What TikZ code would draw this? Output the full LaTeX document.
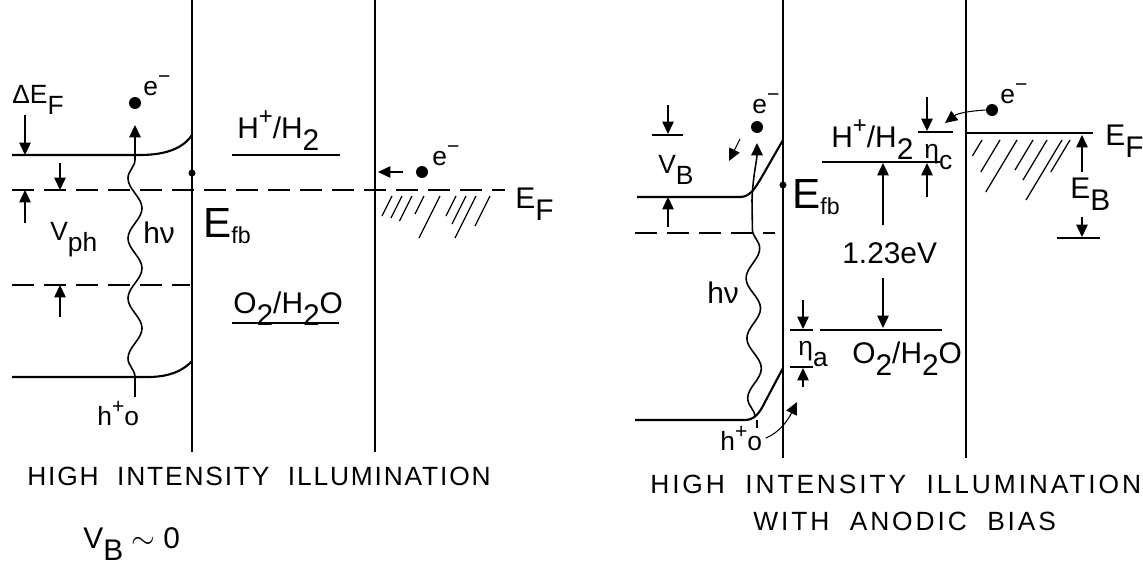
\documentclass[tikz,border=0pt]{standalone}
\usepackage{fontspec}
\setmainfont{Liberation Sans}
\usetikzlibrary{arrows.meta,decorations.pathmorphing,positioning}

\newcommand{\lo}[1]{\raisebox{-0.42em}{#1}}
\newcommand{\hi}[1]{\raisebox{0.45em}{\scalebox{0.8}{#1}}}
\newcommand{\fbsub}{\raisebox{-0.15em}{\scalebox{0.55}{fb}}}

\begin{document}
\begin{tikzpicture}[x=0.02cm, y=-0.02cm,
  band/.style={line width=1.2pt},
  wall/.style={line width=1.3pt},
  lev/.style={line width=1pt},
  bar/.style={line width=0.9pt},
  fermi/.style={line width=1.1pt, dash pattern=on 0.44cm off 0.2cm},
  dim/.style={line width=0.6pt, -{Triangle[length=7pt,width=6.5pt]}},
  edot/.style={circle, fill, inner sep=0pt, minimum size=0.24cm},
  sdot/.style={circle, fill, inner sep=0pt, minimum size=0.14cm},
  lbl/.style={font=\fontsize{17}{17}\selectfont, inner sep=0pt, anchor=base west},
  sml/.style={font=\fontsize{15}{15}\selectfont, inner sep=0pt, anchor=base west},
  big/.style={font=\fontsize{24}{24}\selectfont, inner sep=0pt, anchor=base west},
  ttl/.style={font=\fontsize{15}{15}\selectfont\addfontfeatures{LetterSpace=7}, inner sep=0pt, anchor=base west},
  ttlw/.style={ttl, font=\fontsize{15}{15}\selectfont\addfontfeatures{LetterSpace=11}},
  photon/.style={line width=0.9pt, decorate, decoration={snake, amplitude=4pt, segment length=1.2cm}},
  hatch/.style={line width=0.7pt}
]
\useasboundingbox (0,0) rectangle (1143,565);

% ---- left: high intensity illumination
\draw[wall] (192,0) -- (192,452);
\draw[wall] (375,0) -- (375,452);
\draw[band] (12,155) -- (140,155) .. controls (168,155) and (184,147) .. (192,135);
\draw[band] (12,377) -- (148,377) .. controls (170,377) and (184,370) .. (192,361);
\draw[fermi] (12,190) -- (505,190);
\draw[fermi] (12,285) -- (190,285);
\node[sdot] (fbL) at (192,173) {};
\node[big] (EfbL) at (203,237) {E\fbsub};

\draw[lev] (232,155) -- (340,155);
\draw[lev] (232,323) -- (339,323);
\node[lbl] (hL) at (237,138) {H\hi{+}/H\lo{2}};
\node[lbl] (oL) at (233,313) {O\lo{2}/H\lo{2}O};

\node[sml] (dEF) at (12,103) {ΔE\lo{F}};
\draw[dim] (25,115) -- (25,155);
\draw[dim] (60,163) -- (60,190);
\draw[dim] (25,223) -- (25,190);
\node[sml] (vph) at (50,240) {V\lo{ph}};
\draw[dim] (60,317) -- (60,285);

\node[edot] (eL) at (135,103) {};
\node[sml] (eLl) at (143,95) {e\hi{−}};
\draw[photon] (135,377) -- (135,150);
\draw[dim, line width=0.9pt] (135,150) -- (135,125);
\draw[line width=0.9pt] (135,377) -- (135,397);
\node[lbl] (hvL) at (143,243) {hν};
\node[sml] (holeL) at (97,425) {h\hi{+}o};

\coordinate (mL) at (378,172);
\node[edot] (eM) at (422,172) {};
\node[sml] (eMl) at (432,165) {e\hi{−}};
\draw[dim, shorten <=7pt] (eM) -- (mL);
\foreach \x/\l in {392/20, 402/22, 412/25, 424/18, 440/42, 456/20, 466/28, 476/42, 490/30}
  \draw[hatch] (\x,196) -- ++(-\l/2,\l);
\node[lbl] (EFL) at (515,208) {E\lo{F}};

\node[ttl] (tL) at (27,485) {HIGH\ \ INTENSITY\ \ ILLUMINATION};
\node[lbl] (vb0) at (83,548) {V\lo{B} $\sim$ 0};

% ---- right: with anodic bias
\draw[wall] (783,0) -- (783,458);
\draw[wall] (966,0) -- (966,458);
\draw[band] (637,197) -- (740,197) .. controls (750,197) and (755,188) .. (760,180) -- (783,140);
\draw[band] (635,420) -- (745,420) .. controls (755,420) and (760,412) .. (765,402) -- (783,368);
\draw[fermi] (635,233) -- (775,233);
\node[sdot] (fbR) at (783,185) {};
\node[big] (EfbR) at (792,208) {E\fbsub};

\draw[dim] (668,105) -- (668,134);
\draw[bar] (652,135) -- (683,135);
\node[sml] (vbR) at (658,173) {V\lo{B}};
\draw[dim] (668,227) -- (668,197);

\node[edot] (eR) at (757,127) {};
\node[sml] (eRl) at (752,113) {e\hi{−}};
\coordinate (eRt) at (757,143);
\draw[photon] (755,417) -- (752,200);
\draw[dim, line width=0.9pt] (752,200) .. controls (753,175) and (757,160) .. (eRt);
\draw[dim] (740,139) -- (729,161);
\draw[line width=0.9pt] (757,420) -- (757,428);
\node[lbl] (hvR) at (707,303) {hν};
\node[sml] (holeR) at (720,450) {h\hi{+}o};
\coordinate (hT) at (797,402);
\draw[dim] ([xshift=2pt]holeR.east) .. controls (780,432) and (788,420) .. (hT);

\draw[lev] (822,162) -- (940,162);
\node[lbl] (hR) at (831,147) {H\hi{+}/H\lo{2}};
\draw[lev] (820,330) -- (942,330);
\node[lbl] (oR) at (852,363) {O\lo{2}/H\lo{2}O};
\node[lbl] (ev) at (842,263) {1.23eV};
\draw[dim] (883,225) -- (883,163);
\draw[dim] (883,278) -- (883,328);

\draw[dim] (927,97) -- (927,131);
\draw[bar] (918,132) -- (953,132);
\draw[dim] (927,197) -- (927,163);
\node[sml] (etac) at (924,158) {η\lo{c}};

\draw[dim] (803,300) -- (803,329);
\draw[bar] (790,330) -- (813,330);
\draw[bar] (790,367) -- (813,367);
\draw[dim] (803,387) -- (803,368);
\node[sml] (etaa) at (798,355) {η\lo{a}};

\draw[band] (966,133) -- (1093,133);
\node[lbl] (EFR) at (1105,145) {E\lo{F}};
\foreach \x/\l in {982/16, 1000/32, 1017/52, 1033/30, 1047/40, 1062/60, 1070/32}
  \draw[hatch] (\x,140) -- ++(-0.6*\l,\l);
\node[edot] (eR2) at (992,110) {};
\node[sml] (eR2l) at (1000,103) {e\hi{−}};
\draw[dim] (eR2.west) .. controls (970,111) and (958,113) .. (945,123);
\draw[dim] (1082,172) -- (1082,135);
\node[lbl] (EB) at (1070,198) {E\lo{B}};
\draw[dim] (1082,217) -- (1082,237);
\draw[bar] (1057,238) -- (1100,238);

\node[ttlw] (tR1) at (650,493) {HIGH\ \ INTENSITY\ \ ILLUMINATION};
\node[ttlw] (tR2) at (753,530) {WITH\ \ ANODIC\ \ BIAS};
\end{tikzpicture}
\end{document}
